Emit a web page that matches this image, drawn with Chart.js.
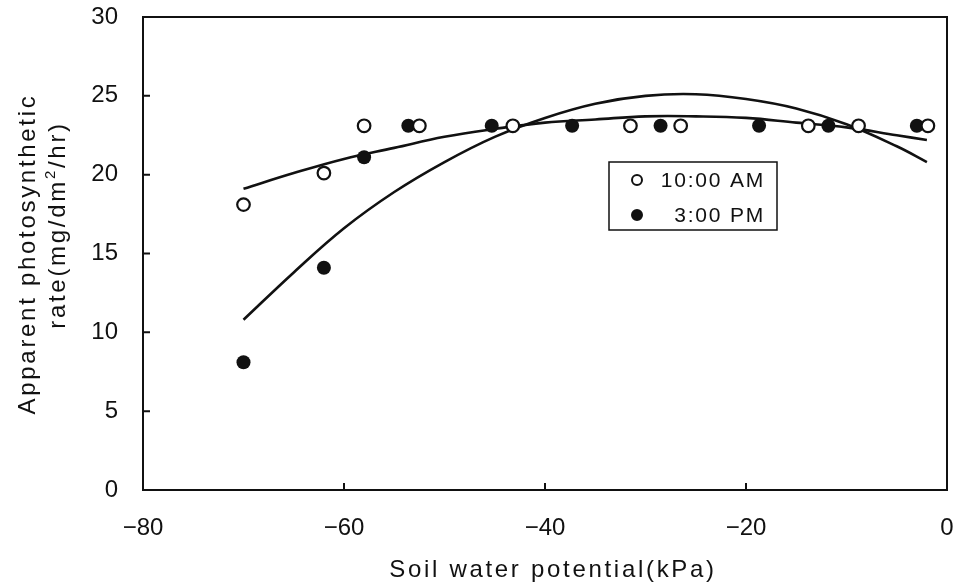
<!DOCTYPE html>
<html>
<head>
<meta charset="utf-8">
<style>
  html, body { margin: 0; padding: 0; background: #fff; }
  #wrap { width: 960px; height: 587px; }
</style>
</head>
<body>
<div id="wrap"><canvas id="photoChart" width="960" height="587"></canvas></div>
<script src="https://cdn.jsdelivr.net/npm/chart.js@4.4.1/dist/chart.umd.min.js"></script>
<script>
const inkColor = '#111';
const fontFamily = '"Liberation Sans", Arial, sans-serif';

const xTickValues = [-80, -60, -40, -20, 0];
const yTickValues = [0, 5, 10, 15, 20, 25, 30];

const xTitle = 'Soil water potential(kPa)';
const yTitleTop = 'Apparent photosynthetic';

// measured points
const amLabel = '10:00 AM';
const amX = [-70, -62, -58, -52.5, -43.2, -31.5, -26.5, -13.8, -8.8, -1.9];
const amY = [18.1, 20.1, 23.1, 23.1, 23.1, 23.1, 23.1, 23.1, 23.1, 23.1];

const pmLabel = '3:00 PM';
const pmX = [-70, -62, -58, -53.6, -45.3, -37.3, -28.5, -18.7, -11.8, -3];
const pmY = [8.1, 14.1, 21.1, 23.1, 23.1, 23.1, 23.1, 23.1, 23.1, 23.1];

// fitted curves
const amFitX = [-70, -65, -60, -55, -50, -45, -40, -35, -30, -25, -20, -15, -10, -5, -2];
const amFitY = [19.1, 20.1, 21.0, 21.7, 22.4, 22.9, 23.3, 23.5, 23.7, 23.7, 23.6, 23.3, 23.0, 22.5, 22.2];

const pmFitX = [-70, -65, -60, -55, -50, -45, -40, -35, -30, -25, -20, -15, -10, -5, -2];
const pmFitY = [10.8, 13.8, 16.6, 18.9, 20.8, 22.4, 23.6, 24.5, 25.0, 25.1, 24.8, 24.2, 23.2, 21.8, 20.8];

function toPoints(xs, ys) {
  return xs.map((x, i) => ({ x, y: ys[i] }));
}

function minusLabel(v) {
  return v < 0 ? '\u2212' + Math.abs(v) : String(v);
}

// box around the plot + inward ticks
const framePlugin = {
  id: 'frame',
  beforeDatasetsDraw(chart) {
    const { ctx, chartArea: a, scales } = chart;
    ctx.save();
    ctx.strokeStyle = inkColor;
    ctx.lineWidth = 2;
    ctx.strokeRect(a.left, a.top, a.right - a.left, a.bottom - a.top);
    ctx.beginPath();
    xTickValues.forEach(v => {
      const px = scales.x.getPixelForValue(v);
      ctx.moveTo(px, a.bottom);
      ctx.lineTo(px, a.bottom - 7);
    });
    yTickValues.forEach(v => {
      const py = scales.y.getPixelForValue(v);
      ctx.moveTo(a.left, py);
      ctx.lineTo(a.left + 7, py);
    });
    ctx.stroke();
    ctx.restore();
  }
};

// axis titles and the boxed legend
const textPlugin = {
  id: 'texts',
  afterDraw(chart) {
    const ctx = chart.ctx;
    ctx.save();
    ctx.fillStyle = inkColor;
    ctx.letterSpacing = '2.7px';
    ctx.font = '24px ' + fontFamily;
    ctx.textAlign = 'center';
    ctx.textBaseline = 'alphabetic';
    ctx.fillText(xTitle, 553, 577);

    // y title, line 1
    ctx.save();
    ctx.translate(35, 254);
    ctx.rotate(-Math.PI / 2);
    ctx.fillText(yTitleTop, 0, 0);
    ctx.restore();

    // y title, line 2 with superscript
    ctx.save();
    ctx.translate(65, 225);
    ctx.rotate(-Math.PI / 2);
    ctx.textAlign = 'left';
    const partA = 'rate(mg/dm', partSup = '2', partB = '/hr)';
    ctx.font = '24px ' + fontFamily;
    const wA = ctx.measureText(partA).width;
    const wB = ctx.measureText(partB).width;
    ctx.font = '15px ' + fontFamily;
    const wS = ctx.measureText(partSup).width;
    let x0 = -(wA + wS + wB) / 2;
    ctx.font = '24px ' + fontFamily;
    ctx.fillText(partA, x0, 0);
    ctx.font = '15px ' + fontFamily;
    ctx.fillText(partSup, x0 + wA, -10);
    ctx.font = '24px ' + fontFamily;
    ctx.fillText(partB, x0 + wA + wS, 0);
    ctx.restore();

    // legend
    ctx.lineWidth = 1.5;
    ctx.strokeStyle = inkColor;
    ctx.strokeRect(609, 162, 168, 68);
    ctx.letterSpacing = '1.8px';
    ctx.font = '21px ' + fontFamily;
    ctx.textAlign = 'right';
    ctx.textBaseline = 'middle';
    const rows = [
      { ds: chart.data.datasets[0], y: 180 },
      { ds: chart.data.datasets[1], y: 215 }
    ];
    rows.forEach(r => {
      ctx.beginPath();
      ctx.arc(637, r.y, 5, 0, Math.PI * 2);
      ctx.fillStyle = r.ds.pointBackgroundColor;
      ctx.fill();
      ctx.lineWidth = 2;
      ctx.strokeStyle = inkColor;
      ctx.stroke();
      ctx.fillStyle = inkColor;
      ctx.fillText(r.ds.label, 765, r.y + 1);
    });
    ctx.restore();
  }
};

const tickFont = { family: fontFamily, size: 24 };

new Chart(document.getElementById('photoChart'), {
  type: 'scatter',
  data: {
    datasets: [
      {
        label: amLabel,
        data: toPoints(amX, amY),
        pointRadius: 6.3,
        pointBorderWidth: 2.2,
        pointBorderColor: inkColor,
        pointBackgroundColor: '#fff',
        order: 1
      },
      {
        label: pmLabel,
        data: toPoints(pmX, pmY),
        pointRadius: 7,
        pointBorderWidth: 0,
        pointBorderColor: inkColor,
        pointBackgroundColor: inkColor,
        order: 2
      },
      {
        label: 'fit 10:00 AM',
        type: 'line',
        data: toPoints(amFitX, amFitY),
        borderColor: inkColor,
        borderWidth: 2.6,
        pointRadius: 0,
        tension: 0.4,
        fill: false,
        order: 3
      },
      {
        label: 'fit 3:00 PM',
        type: 'line',
        data: toPoints(pmFitX, pmFitY),
        borderColor: inkColor,
        borderWidth: 2.6,
        pointRadius: 0,
        tension: 0.4,
        fill: false,
        order: 3
      }
    ]
  },
  options: {
    responsive: false,
    animation: false,
    layout: { padding: { top: 17, right: 13, left: 0, bottom: 0 } },
    plugins: { legend: { display: false }, tooltip: { enabled: false } },
    scales: {
      x: {
        type: 'linear',
        min: -80,
        max: 0,
        grid: { display: false, drawTicks: false },
        border: { display: false },
        afterBuildTicks: s => { s.ticks = xTickValues.map(v => ({ value: v })); },
        afterFit: s => { s.height = 97; s.paddingLeft = 0; s.paddingRight = 0; },
        ticks: { padding: 24, color: inkColor, font: tickFont, maxRotation: 0, autoSkip: false, callback: minusLabel }
      },
      y: {
        type: 'linear',
        min: 0,
        max: 30,
        grid: { display: false, drawTicks: false },
        border: { display: false },
        afterBuildTicks: s => { s.ticks = yTickValues.map(v => ({ value: v })); },
        afterFit: s => { s.width = 143; s.paddingTop = 0; s.paddingBottom = 0; },
        ticks: { padding: 25, color: inkColor, font: tickFont, autoSkip: false }
      }
    }
  },
  plugins: [framePlugin, textPlugin]
});
</script>
</body>
</html>
